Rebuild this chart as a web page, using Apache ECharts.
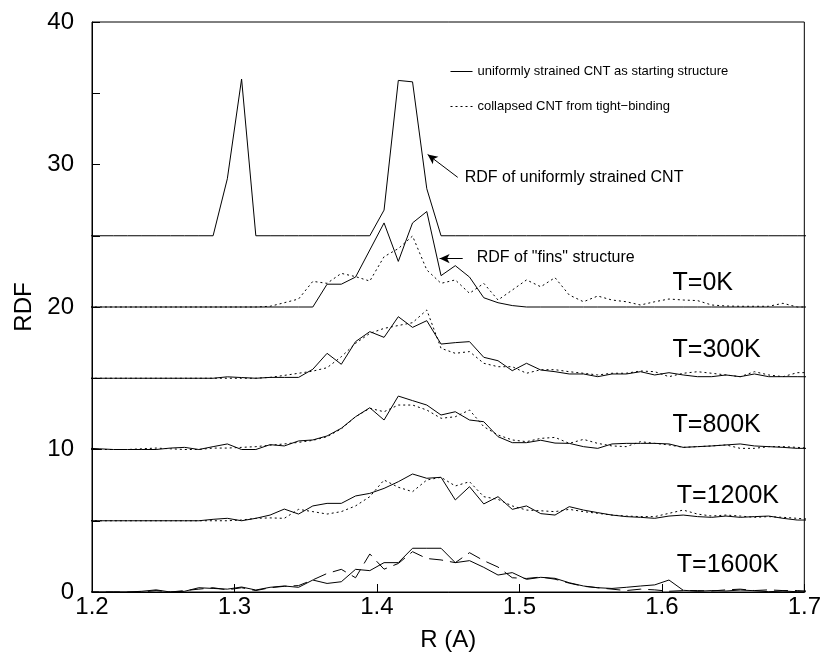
<!DOCTYPE html>
<html>
<head>
<meta charset="utf-8">
<script src="https://cdn.jsdelivr.net/npm/echarts@6/dist/echarts.min.js"></script>
<style>
  html, body { margin: 0; background: #fff; }
  #chart { width: 824px; height: 662px; }
</style>
</head>
<body>
<div id="chart"></div>
<script>
// bin centres (A)
const R = [1.195, 1.205, 1.215, 1.225, 1.235, 1.245, 1.255, 1.265, 1.275, 1.285, 1.295, 1.305, 1.315,
  1.325, 1.335, 1.345, 1.355, 1.365, 1.375, 1.385, 1.395, 1.405, 1.415, 1.425, 1.435, 1.445,
  1.455, 1.465, 1.475, 1.485, 1.495, 1.505, 1.515, 1.525, 1.535, 1.545, 1.555, 1.565, 1.575,
  1.585, 1.595, 1.605, 1.615, 1.625, 1.635, 1.645, 1.655, 1.665, 1.675, 1.685, 1.695, 1.705]

// uniformly strained CNT (shifted by 25)
const uniform = [25, 25, 25, 25, 25, 25, 25, 25, 25, 25, 29.0, 36.0, 25,
  25, 25, 25, 25, 25, 25, 25, 25, 26.8, 35.9, 35.8, 28.3, 25,
  25, 25, 25, 25, 25, 25, 25, 25, 25, 25, 25, 25, 25,
  25, 25, 25, 25, 25, 25, 25, 25, 25, 25, 25, 25, 25]

// T=0K (shifted by 20)
const solid0K = [20, 20, 20, 20, 20, 20, 20, 20, 20, 20, 20, 20, 20,
  20, 20, 20, 20, 21.6, 21.6, 22.1, 24.0, 25.9, 23.2, 25.9, 26.7, 22.2,
  22.9, 22.1, 20.65, 20.3, 20.1, 20, 20, 20, 20, 20, 20, 20, 20,
  20, 20, 20, 20, 20, 20, 20, 20, 20, 20, 20, 20, 20]
const dotted0K = [20, 20, 20, 20, 20, 20, 20, 20, 20, 20, 20, 20, 20,
  20.05, 20.3, 20.56, 21.8, 21.66, 22.36, 22.13, 21.82, 23.53, 24.1, 24.98, 22.6, 21.66,
  21.9, 20.96, 21.66, 20.49, 21.19, 21.9, 21.42, 22.06, 20.84, 20.37, 20.77, 20.49, 20.37,
  20.14, 20.37, 20.56, 20.49, 20.45, 20.14, 20.07, 20.05, 20.05, 20.05, 20.26, 20.0, 20.0]

// T=300K (shifted by 15)
const solid300K = [15, 15, 15, 15, 15, 15, 15, 15, 15, 15, 15.1, 15.05, 15,
  15.06, 15.06, 15.06, 15.63, 16.75, 15.98, 17.57, 18.27, 17.87, 19.32, 18.57, 19.04, 17.4,
  17.5, 17.57, 16.47, 16.23, 15.53, 16.05, 15.58, 15.46, 15.3, 15.3, 15.11, 15.3, 15.3,
  15.46, 15.23, 15.39, 15.23, 15.11, 15.11, 15.23, 15.11, 15.3, 15.11, 15.11, 15.11, 15.1]
const dotted300K = [15, 15, 15, 15, 15, 15, 15, 15, 15, 15, 15, 15, 15,
  15.06, 15.2, 15.35, 15.5, 15.74, 16.51, 17.45, 18.15, 18.5, 18.7, 18.9, 19.79, 17.1,
  16.75, 16.87, 16.05, 15.81, 15.81, 15.35, 15.6, 15.6, 15.46, 15.35, 15.23, 15.35, 15.35,
  15.51, 15.46, 15.11, 15.35, 15.46, 15.35, 15.23, 15.11, 15.46, 15.23, 15.11, 15.39, 15.4]

// T=800K (shifted by 10)
const solid800K = [10.1, 10.05, 10, 10, 10, 10, 10.1, 10.15, 10, 10.2, 10.39, 10, 10,
  10.34, 10.25, 10.6, 10.67, 10.95, 11.49, 12.3, 12.93, 12.07, 13.75, 13.43, 13.12, 12.42,
  12.65, 12.07, 11.95, 10.9, 10.48, 10.48, 10.65, 10.45, 10.43, 10.2, 10.08, 10.39, 10.43,
  10.43, 10.43, 10.39, 10.15, 10.2, 10.25, 10.32, 10.39, 10.25, 10.2, 10.15, 10.08, 10.08]
const dotted800K = [10, 10, 10, 10, 10.05, 10.1, 10.05, 10, 10, 10.1, 10.1, 10.15, 10.2,
  10.3, 10.39, 10.5, 10.64, 10.9, 11.45, 12.3, 12.89, 12.65, 13.12, 13.12, 12.77, 12.19,
  12.3, 12.77, 11.6, 11.02, 10.67, 10.55, 10.78, 10.85, 10.43, 10.71, 10.43, 10.25, 10.2,
  10.55, 10.43, 10.32, 10.15, 10.2, 10.25, 10.32, 10.08, 10.08, 10.2, 10.2, 10.15, 10.08]

// T=1200K (shifted by 5)
const solid1200K = [5, 5, 5, 5, 5, 5, 5, 5, 5, 5.1, 5.17, 5, 5.17,
  5.4, 5.82, 5.47, 6.04, 6.22, 6.22, 6.74, 6.92, 7.27, 7.74, 8.28, 7.98, 8.05,
  6.46, 7.39, 6.18, 6.69, 5.8, 6.04, 5.5, 5.4, 5.99, 5.75, 5.57, 5.4, 5.29,
  5.24, 5.17, 5.33, 5.4, 5.29, 5.24, 5.33, 5.24, 5.29, 5.33, 5.17, 5.05, 5.05]
const dotted1200K = [5, 5, 5, 5, 5, 5, 5, 5, 5, 5, 5, 5.05, 5.17,
  5.2, 5.17, 5.8, 5.64, 5.47, 5.64, 6.04, 6.69, 7.86, 7.35, 7.04, 7.86, 8.05,
  7.44, 7.74, 6.69, 6.5, 6.04, 5.75, 5.7, 5.64, 5.8, 5.64, 5.52, 5.4, 5.33,
  5.29, 5.29, 5.52, 5.75, 5.47, 5.33, 5.4, 5.33, 5.24, 5.29, 5.24, 5.17, 5.1]

// T=1600K (no shift)
const solid1600K = [0, 0, 0, 0, 0.05, 0.15, 0, 0.05, 0.3, 0.25, 0.2, 0.35, 0.14,
  0.33, 0.42, 0.33, 0.84, 0.6, 0.72, 1.59, 1.5, 2.06, 2.06, 3.07, 3.07, 3.07,
  2.06, 2.2, 1.73, 1.19, 1.36, 0.89, 1.03, 0.96, 0.65, 0.42, 0.3, 0.25, 0.33,
  0.42, 0.5, 0.84, 0.12, 0.05, 0.1, 0.07, 0.14, 0.09, 0.02, 0.07, 0.02, 0]
const dashed1600K = [0, 0, 0, 0, 0, 0.1, 0, 0.1, 0.2, 0.3, 0.15, 0.3, 0.1,
  0.3, 0.4, 0.45, 0.85, 1.3, 1.59, 1.0, 2.67, 1.6, 2.0, 2.83, 2.35, 2.25,
  2.06, 2.76, 2.2, 1.75, 1.0, 0.95, 1.05, 0.9, 0.62, 0.4, 0.3, 0.2, 0.1,
  0.2, 0.15, 0.05, 0.1, 0.1, 0.07, 0.15, 0.2, 0.1, 0.15, 0.1, 0.1, 0.05]

const xTicks = [1.2, 1.3, 1.4, 1.5, 1.6, 1.7]
const yLabels = [0, 10, 20, 30, 40]

const tempLabels = ['T=0K', 'T=300K', 'T=800K', 'T=1200K', 'T=1600K']
const tempLabelPos = [[1.6075, 21.68], [1.6075, 16.98], [1.6075, 11.72], [1.6105, 6.74], [1.6105, 1.9]]

const noteTexts = ['RDF of uniformly strained CNT', 'RDF of "fins" structure']
const notePos = [[1.4616, 29.05], [1.47, 23.44]]
const arrows = [
  [[1.4567, 29.1], [1.4356, 30.7]],
  [[1.4602, 23.4], [1.444, 23.4]]
]

const SOLID = 'uniformly strained CNT as starting structure'
const DOTTED = 'collapsed CNT from tight\u2212binding'
const FONT = '"Liberation Sans", Arial, Helvetica, sans-serif'

function pairs(ys) {
  return R.map((x, i) => [x, ys[i]])
}

function lineSeries(name, ys, type) {
  return {
    name: name,
    type: 'line',
    data: pairs(ys),
    symbol: 'none',
    clip: true,
    lineStyle: { color: '#000', width: 1, type: type },
    itemStyle: { color: '#000' },
    emphasis: { disabled: true },
    z: 3
  }
}

const series = [
  lineSeries(DOTTED, dotted0K, [2, 3]),
  lineSeries(DOTTED, dotted300K, [2, 3]),
  lineSeries(DOTTED, dotted800K, [2, 3]),
  lineSeries(DOTTED, dotted1200K, [2, 3]),
  lineSeries('collapsed CNT T=1600K', dashed1600K, [14, 7]),
  lineSeries(SOLID, uniform, 'solid'),
  lineSeries(SOLID, solid0K, 'solid'),
  lineSeries(SOLID, solid300K, 'solid'),
  lineSeries(SOLID, solid800K, 'solid'),
  lineSeries(SOLID, solid1200K, 'solid'),
  lineSeries(SOLID, solid1600K, 'solid')
]

// arrows for the two annotations
series[5].markLine = {
  silent: true,
  symbol: ['none', 'arrow'],
  symbolSize: [7, 10],
  label: { show: false },
  lineStyle: { color: '#000', width: 1, type: 'solid' },
  data: arrows.map(a => [{ coord: a[0] }, { coord: a[1] }])
}

const chart = echarts.init(document.getElementById('chart'))
chart.setOption({
  animation: false,
  backgroundColor: '#fff',
  textStyle: { fontFamily: FONT },
  grid: {
    left: 92, right: 19, top: 22, bottom: 70,
    show: true, borderColor: '#000', borderWidth: 1
  },
  legend: {
    data: [SOLID, DOTTED],
    orient: 'vertical',
    left: 445,
    top: 60,
    itemWidth: 22,
    itemHeight: 10,
    itemGap: 22,
    selectedMode: false,
    itemStyle: { opacity: 0 },
    lineStyle: { width: 1 },
    textStyle: { fontSize: 13, color: '#000', fontFamily: FONT }
  },
  xAxis: {
    type: 'value',
    min: 1.2,
    max: 1.7,
    interval: 0.1,
    name: 'R (A)',
    nameLocation: 'middle',
    nameGap: 36,
    nameTextStyle: { fontSize: 24, color: '#000', fontFamily: FONT },
    axisLine: { show: true, lineStyle: { color: '#000' } },
    axisTick: { show: true, inside: true, length: 8, lineStyle: { color: '#000' } },
    axisLabel: {
      fontSize: 24, color: '#000', margin: 3, fontFamily: FONT,
      formatter: v => {
        const t = xTicks.find(k => Math.abs(k - v) < 1e-6)
        return t === undefined ? '' : t.toFixed(1)
      }
    },
    splitLine: { show: false }
  },
  yAxis: {
    type: 'value',
    min: 0,
    max: 40,
    interval: 5,
    name: 'RDF',
    nameLocation: 'middle',
    nameGap: 56,
    nameTextStyle: { fontSize: 24, color: '#000', fontFamily: FONT },
    axisLine: { show: true, lineStyle: { color: '#000' } },
    axisTick: { show: true, inside: true, length: 8, lineStyle: { color: '#000' } },
    axisLabel: {
      fontSize: 24, color: '#000', margin: 18, fontFamily: FONT,
      formatter: v => (yLabels.indexOf(v) >= 0 ? String(v) : '')
    },
    splitLine: { show: false }
  },
  series: series
})

// texts placed in data coordinates
const graphics = []
tempLabels.forEach((t, i) => {
  const p = chart.convertToPixel({ gridIndex: 0 }, tempLabelPos[i])
  graphics.push({
    type: 'text', x: p[0], y: p[1], silent: true,
    style: { text: t, fontSize: 25, fontFamily: FONT, fill: '#000', align: 'left', verticalAlign: 'middle' }
  })
})
noteTexts.forEach((t, i) => {
  const p = chart.convertToPixel({ gridIndex: 0 }, notePos[i])
  graphics.push({
    type: 'text', x: p[0], y: p[1], silent: true,
    style: { text: t, fontSize: 16, fontFamily: FONT, fill: '#000', align: 'left', verticalAlign: 'middle' }
  })
})
chart.setOption({ graphic: graphics })
</script>
</body>
</html>
